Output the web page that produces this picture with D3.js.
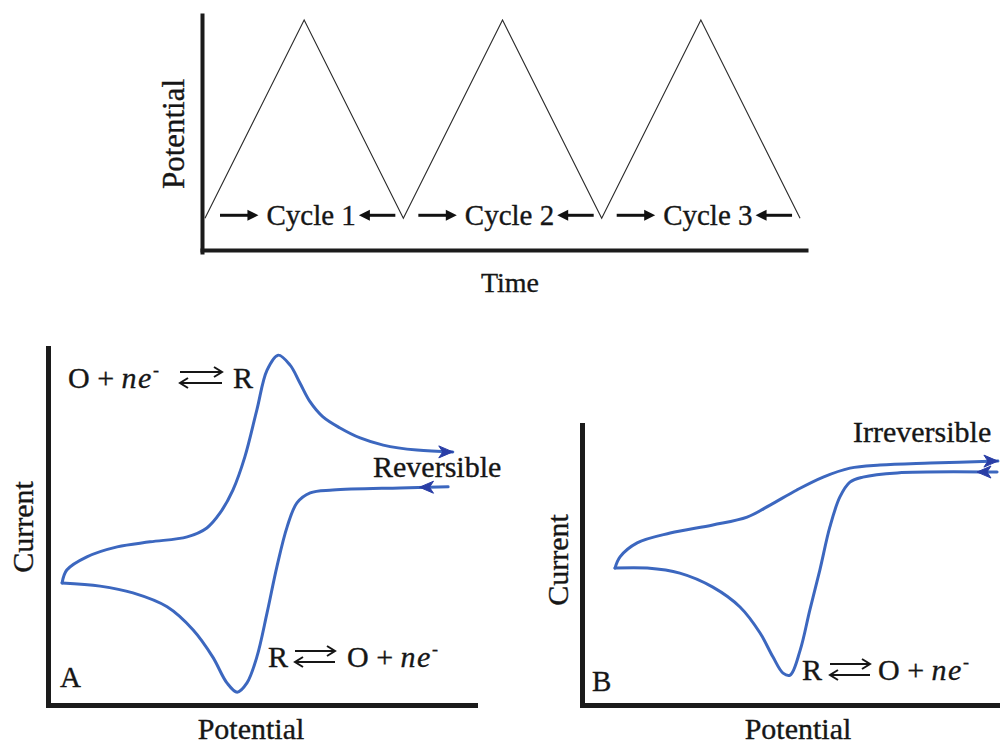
<!DOCTYPE html>
<html><head><meta charset="utf-8">
<script src="https://cdn.jsdelivr.net/npm/d3@7"></script>
<style>
body{margin:0;background:#fff}
svg{display:block}
text{font-family:"Liberation Serif","Times New Roman",serif;fill:#161616;stroke:#161616;stroke-width:0.35;white-space:pre}
</style>
</head><body>
<svg id="c" width="1000" height="746"></svg>
<script>
// ---------------- data ----------------
// top panel: triangular potential waveform
const waveTime = [0, 0.5, 1, 1.5, 2, 2.5, 3];
const wavePotential = [0, 1, 0, 1, 0, 1, 0];
const cycleLabels = ["Cycle 1", "Cycle 2", "Cycle 3"];
const cycleStarts = [0, 1, 2];

// panel A (reversible) – forward (upper) branch, potential / current in arbitrary units 0-100
const revUpperPotential = [3.3, 4.4, 9.1, 16.2, 23.9, 32.6, 37.2, 40.3, 43.3, 46.1, 48.9, 51.3, 53.9, 56.7, 59.0, 61.4, 64.4, 68.4, 73.1, 78.5, 86.4, 94.8];
const revUpperCurrent   = [34.2, 37.8, 41.5, 44.3, 45.7, 47.1, 49.6, 53.8, 60.2, 69.5, 82.6, 93.8, 98.0, 95.2, 90.2, 84.9, 80.7, 77.6, 74.8, 72.8, 71.4, 70.9];
// panel A – reverse (lower) branch
const revLowerPotential = [3.3, 12.2, 19.9, 27.9, 34.0, 38.6, 41.9, 44.3, 46.6, 48.9, 51.3, 53.6, 56.0, 58.3, 61.4, 66.7, 82.4, 93.7];
const revLowerCurrent   = [34.2, 33.3, 31.4, 27.5, 21.0, 13.4, 6.2, 3.6, 6.2, 13.4, 25.8, 38.7, 49.9, 56.6, 59.4, 60.2, 60.8, 61.1];

// panel B (irreversible) – upper branch
const irrUpperPotential = [7.9, 9.1, 13.2, 21.1, 31.3, 39.5, 45.0, 51.4, 57.7, 64.1, 71.3, 83.3, 99.5];
const irrUpperCurrent   = [48.9, 52.9, 57.9, 61.4, 64.3, 67.1, 71.4, 76.8, 81.4, 84.6, 85.7, 86.4, 87.1];
// panel B – lower branch
const irrLowerPotential = [7.9, 15.6, 23.4, 31.3, 37.8, 42.6, 45.7, 48.1, 49.8, 52.2, 54.5, 56.9, 59.3, 61.7, 64.1, 67.2, 75.4, 99.3];
const irrLowerCurrent   = [48.9, 48.9, 47.1, 42.1, 35.0, 25.7, 17.1, 11.4, 10.7, 19.6, 33.9, 48.2, 63.6, 74.3, 79.6, 81.4, 82.9, 83.2];

// scan-direction arrow heads (tip potential, tip current, direction)
const revArrowPotential = [94.8, 87.0];
const revArrowCurrent   = [70.9, 61.0];
const revArrowDir       = [1, -1];
const irrArrowPotential = [99.5, 94.5];
const irrArrowCurrent   = [87.1, 83.2];
const irrArrowDir       = [1, -1];

// ---------------- drawing ----------------
const svg = d3.select("#c");
const AXIS = "#1b1b1b", CURVE = "#3c67bf", HEAD = "#2a3ea6";

function styleAxis(g, w){
  g.select(".domain").attr("stroke", AXIS).attr("stroke-width", w).attr("stroke-linecap","square");
  g.selectAll(".tick").remove();
}

// ---- top panel ----
const tx = d3.scaleLinear().domain([-0.015, 3.03]).range([202, 806]);
const ty = d3.scaleLinear().domain([-0.17, 1.025]).range([252, 15]);
const topG = svg.append("g");
topG.append("g").attr("transform", `translate(0,${ty(-0.16)})`)
  .call(d3.axisBottom(tx).ticks(0).tickSizeOuter(0)).call(styleAxis, 4);
topG.append("g").attr("transform", `translate(${tx(-0.015)},0)`)
  .call(d3.axisLeft(ty).ticks(0).tickSizeOuter(0)).call(styleAxis, 4);

const wave = waveTime.map((t,i)=>[t, wavePotential[i]]);
topG.append("path").datum(wave)
  .attr("d", d3.line().x(d=>tx(d[0])).y(d=>ty(d[1])))
  .attr("fill","none").attr("stroke","#2a2a2a").attr("stroke-width",1.1);

function blackArrow(g, x1, x2, y){
  const dir = Math.sign(x2-x1);
  g.append("line").attr("x1",x1).attr("x2",x2-dir*8).attr("y1",y).attr("y2",y)
    .attr("stroke","#111").attr("stroke-width",3);
  g.append("path").attr("d",`M${x2},${y} L${x2-dir*11},${y-5.5} L${x2-dir*11},${y+5.5} Z`).attr("fill","#111");
}
cycleLabels.forEach((lab,i)=>{
  const s = cycleStarts[i];
  const xs = tx(s), xe = tx(s+1), yb = ty(0);
  const t = topG.append("text").attr("x", tx(s+0.5)+7).attr("y", yb+7)
    .attr("text-anchor","middle").attr("font-size",29).text(lab);
  const w = t.node().getComputedTextLength();
  const tl = tx(s+0.5)+7 - w/2, tr = tx(s+0.5)+7 + w/2;
  blackArrow(topG, xs+15, tl-8, yb-3);
  blackArrow(topG, xe-8, tr+3, yb-3);
});
topG.append("text").attr("transform","translate(184,134) rotate(-90)")
  .attr("text-anchor","middle").attr("font-size",31).text("Potential");
topG.append("text").attr("x",510).attr("y",292).attr("text-anchor","middle")
  .attr("font-size",28).text("Time");

// ---- CV panels ----
function cvPanel(cfg){
  const g = svg.append("g");
  const x = d3.scaleLinear().domain([0,100]).range(cfg.xr);
  const y = d3.scaleLinear().domain([0,100]).range(cfg.yr);
  g.append("g").attr("transform",`translate(0,${cfg.yr[0]})`)
    .call(d3.axisBottom(x).ticks(0).tickSizeOuter(0)).call(styleAxis,5);
  g.append("g").attr("transform",`translate(${cfg.xr[0]},0)`)
    .call(d3.axisLeft(y).ticks(0).tickSizeOuter(0)).call(styleAxis,5);
  const line = d3.line().x(d=>x(d[0])).y(d=>y(d[1])).curve(d3.curveCatmullRom.alpha(0.5));
  [[cfg.up, cfg.upC],[cfg.lo, cfg.loC]].forEach(([px,cy])=>{
    g.append("path").datum(px.map((p,i)=>[p,cy[i]]))
      .attr("d",line).attr("fill","none").attr("stroke",CURVE)
      .attr("stroke-width",3).attr("stroke-linejoin","round").attr("stroke-linecap","round");
  });
  cfg.ap.forEach((p,i)=>{
    const X = x(p), Y = y(cfg.ac[i]), d = cfg.ad[i];
    g.append("path").attr("d",`M${X},${Y} L${X-d*14},${Y-6} L${X-d*10},${Y} L${X-d*14},${Y+6} Z`)
      .attr("fill",HEAD).attr("stroke",HEAD).attr("stroke-width",1);
  });
  return g;
}
const gA = cvPanel({xr:[48,475], yr:[705,348], up:revUpperPotential, upC:revUpperCurrent,
  lo:revLowerPotential, loC:revLowerCurrent, ap:revArrowPotential, ac:revArrowCurrent, ad:revArrowDir});
const gB = cvPanel({xr:[582,1000], yr:[705,425], up:irrUpperPotential, upC:irrUpperCurrent,
  lo:irrLowerPotential, loC:irrLowerCurrent, ap:irrArrowPotential, ac:irrArrowCurrent, ad:irrArrowDir});

// axis titles and labels
svg.append("text").attr("transform","translate(33,527) rotate(-90)").attr("text-anchor","middle")
  .attr("font-size",30).text("Current");
svg.append("text").attr("x",251).attr("y",739).attr("text-anchor","middle").attr("font-size",30).text("Potential");
svg.append("text").attr("x",60).attr("y",687).attr("font-size",29).text("A");
svg.append("text").attr("x",373).attr("y",477).attr("font-size",30).text("Reversible");

svg.append("text").attr("transform","translate(568,560) rotate(-90)").attr("text-anchor","middle")
  .attr("font-size",30).text("Current");
svg.append("text").attr("x",798).attr("y",739).attr("text-anchor","middle").attr("font-size",30).text("Potential");
svg.append("text").attr("x",592).attr("y",691).attr("font-size",29).text("B");
svg.append("text").attr("x",853).attr("y",442).attr("font-size",30).text("Irreversible");

// equilibrium labels
const ONE = [{t:"O + "},{t:"ne",i:true},{t:"-",s:true}];
const TWO = [{t:"R"}];
function addText(x, yb, parts, fs){
  const t = svg.append("text").attr("x",x).attr("y",yb).attr("font-size",fs);
  parts.forEach(p=>{
    const ts = t.append("tspan").text(p.t);
    if(p.i) ts.attr("font-style","italic").attr("letter-spacing",1.5);
    if(p.s) ts.attr("font-size",fs*0.6).attr("dy",-fs*0.4);
  });
  return t.node().getComputedTextLength();
}
function eqArrows(x1, x2, yb){
  const g = svg.append("g").attr("stroke","#161616").attr("stroke-width",2).attr("fill","none");
  const yt = yb-16, ybot = yb-5;
  g.append("line").attr("x1",x1).attr("x2",x2).attr("y1",yt).attr("y2",yt);
  g.append("path").attr("d",`M${x2-8},${yt-5} L${x2},${yt} L${x2-8},${yt+5}`);
  g.append("line").attr("x1",x1).attr("x2",x2).attr("y1",ybot).attr("y2",ybot);
  g.append("path").attr("d",`M${x1+8},${ybot-5} L${x1},${ybot} L${x1+8},${ybot+5}`);
}
// x positions: text start, arrow start, arrow end, second text start
function eqLabel(x0, a1, a2, x2, yb, left, right, fs){
  addText(x0, yb, left, fs);
  eqArrows(a1, a2, yb);
  addText(x2, yb, right, fs);
}
eqLabel(68, 180, 222, 233, 388, ONE, TWO, 30);
eqLabel(268, 295, 335, 347, 667, TWO, ONE, 30);
eqLabel(802, 830, 870, 878, 680, TWO, ONE, 30);
</script>
</body></html>
